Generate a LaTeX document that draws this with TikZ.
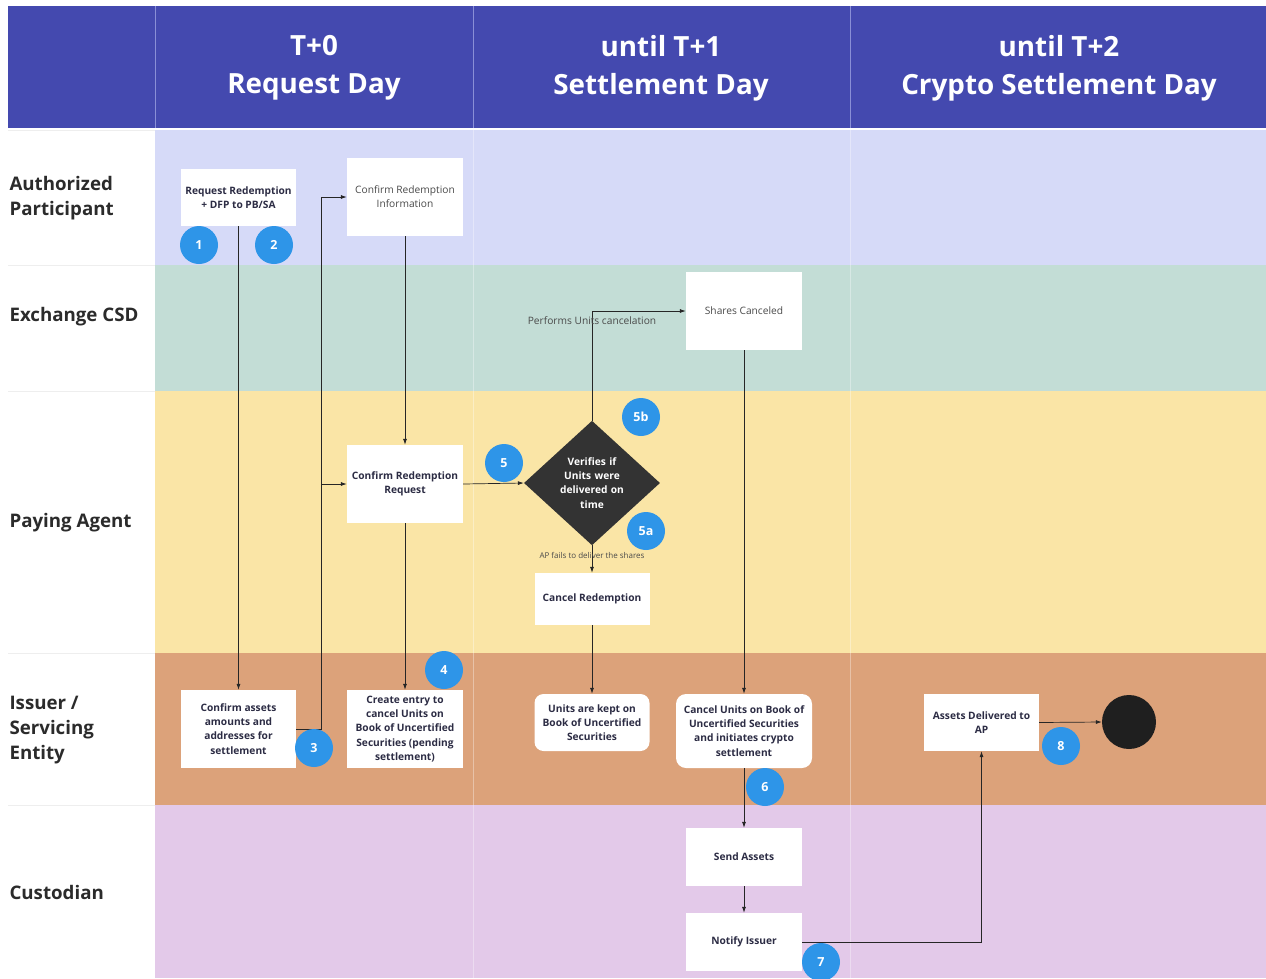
\documentclass[tikz,border=0pt]{standalone}
\usepackage{fontspec}
\setmainfont{Open Sans}
\usetikzlibrary{shapes.geometric,arrows.meta}
\definecolor{hdr}{HTML}{4449AF}
\definecolor{hdrline}{HTML}{8A8FD6}
\definecolor{laneA}{HTML}{D6DAF8}
\definecolor{laneB}{HTML}{C3DDD6}
\definecolor{laneC}{HTML}{FAE5A6}
\definecolor{laneD}{HTML}{DCA27A}
\definecolor{laneE}{HTML}{E3C9E9}
\definecolor{badge}{HTML}{2E95E8}
\definecolor{btext}{HTML}{2C2C44}
\definecolor{rtext}{HTML}{4A4A4A}
\definecolor{lbl}{HTML}{2B2B2B}
\definecolor{dia}{HTML}{333333}
\definecolor{sep}{HTML}{EEEEEE}
\begin{document}
\begin{tikzpicture}[x=1pt,y=-1pt,
  box/.style={fill=white, align=center, inner sep=2pt, text=btext,
    font=\bfseries\fontsize{10.2}{14.2}\selectfont},
  rbox/.style={box, font=\fontsize{10.2}{14.2}\selectfont, text=rtext},
  numbadge/.style={circle, fill=badge, minimum size=38pt, inner sep=0pt, text=white,
    font=\bfseries\fontsize{12.5}{12.5}\selectfont},
  arr/.style={draw=black!85, line width=0.7pt, -{Latex[length=6pt,width=4pt]}},
  lanelbl/.style={anchor=west, align=left, text=lbl, font=\bfseries\fontsize{18.7}{25}\selectfont},
  hdrtxt/.style={align=center, text=white, font=\bfseries\fontsize{27.8}{38}\selectfont},
  note/.style={text=rtext, font=\fontsize{10.2}{12}\selectfont}
]
\useasboundingbox (0,0) rectangle (1266,978);
\fill[white] (0,0) rectangle (1266,978);
% header
\fill[hdr] (8,6) rectangle (1266,128);
\foreach \xx in {155,473,850} \draw[hdrline, line width=0.8pt] (\xx,6) -- (\xx,128);
% lanes
\fill[laneA] (155,130) rectangle (1266,265);
\fill[laneB] (155,265) rectangle (1266,391);
\fill[laneC] (155,391) rectangle (1266,653);
\fill[laneD] (155,653) rectangle (1266,805);
\fill[laneE] (155,805) rectangle (1266,978);
\foreach \xx in {473,850} \draw[white, opacity=0.35, line width=1pt] (\xx,130) -- (\xx,978);
\foreach \yy in {265,391,653,805} \draw[sep, line width=1pt] (8,\yy) -- (155,\yy);
\draw[sep, line width=1pt] (8,130) -- (155,130);
% header text
\node[hdrtxt] (h0) at (314,68) {T+0\\Request Day};
\node[hdrtxt] (h1) at (661,68) {until T+1\\Settlement Day};
\node[hdrtxt] (h2) at (1059,68) {until T+2\\Crypto Settlement Day};
% lane labels
\node[lanelbl] (l1) at (6,198) {Authorized\\Participant};
\node[lanelbl] (l2) at (6,317) {Exchange CSD};
\node[lanelbl] (l3) at (6,523) {Paying Agent};
\node[lanelbl] (l4) at (6,730) {Issuer /\\Servicing\\Entity};
\node[lanelbl] (l5) at (6,892) {Custodian};
% boxes
\node[box, minimum width=115pt, minimum height=57pt] (req) at (238.5,197.5) {Request Redemption\\+ DFP to PB/SA};
\node[rbox, minimum width=116pt, minimum height=78pt] (cri) at (405,197) {Confirm Redemption\\Information};
\node[rbox, minimum width=116pt, minimum height=78pt] (shc) at (744,311) {Shares Canceled};
\node[box, minimum width=116pt, minimum height=78pt] (crq) at (405,484) {Confirm Redemption\\Request};
\node[diamond, fill=dia, minimum width=136pt, minimum height=120pt, inner sep=0pt,
      text width=74pt, align=center, text=white,
      font=\bfseries\fontsize{10.2}{14.2}\selectfont] (ver) at (592,483) {Verifies if\\Units were\\delivered on\\time};
\node[box, minimum width=115pt, minimum height=52pt] (cre) at (592,599) {Cancel Redemption};
\node[box, minimum width=115pt, minimum height=78pt] (caa) at (238.5,729) {Confirm assets\\amounts and\\addresses for\\settlement};
\node[box, minimum width=116pt, minimum height=78pt] (ent) at (405,729) {Create entry to\\cancel Units on\\Book of Uncertified\\Securities (pending\\settlement)};
\node[box, rounded corners=9pt, minimum width=115pt, minimum height=57pt] (kept) at (592,722.5) {Units are kept on\\Book of Uncertified\\Securities};
\node[box, rounded corners=10pt, minimum width=136pt, minimum height=74pt] (cun) at (744,731) {Cancel Units on Book of\\Uncertified Securities\\and initiates crypto\\settlement};
\node[box, minimum width=116pt, minimum height=58pt] (snd) at (744,857) {Send Assets};
\node[box, minimum width=116pt, minimum height=58pt] (ntf) at (744,942) {Notify Issuer};
\node[box, minimum width=115pt, minimum height=57pt] (adl) at (981.5,722.5) {Assets Delivered to\\AP};
\node[circle, fill=black!88, minimum size=54pt, inner sep=0pt] (endc) at (1129,722) {};
% connectors
\draw[arr] (req.south) -- (caa.north);
\coordinate (j1) at (321,729);
\draw[arr] (caa.east) -- (j1) |- (cri.west);
\draw[arr] (j1 |- crq.west) -- (crq.west);
\draw[arr] (cri.south) -- (crq.north);
\draw[arr] (crq.south) -- (ent.north);
\draw[arr] (crq.east) -- (ver.west);
\draw[arr] (ver.north) |- (shc.west);
\node[note] (pl) at (592,321) {Performs Units cancelation};
\draw[arr] (ver.south) -- (cre.north);
\node[note, font=\fontsize{8}{9}\selectfont] (fl) at (592,555) {AP fails to deliver the shares};
\draw[arr] (cre.south) -- (kept.north);
\draw[arr] (shc.south) -- (cun.north);
\draw[arr] (cun.south) -- (snd.north);
\draw[arr] (snd.south) -- (ntf.north);
\draw[arr] (ntf.east) -| (adl.south);
\draw[arr] (adl.east) -- (endc.west);
% badges
\node[numbadge] (b1) at (199,245) {1};
\node[numbadge] (b2) at (274,245) {2};
\node[numbadge] (b3) at (314,748) {3};
\node[numbadge] (b4) at (444,670) {4};
\node[numbadge] (b5) at (504,463) {5};
\node[numbadge] (b5b) at (641,417) {5b};
\node[numbadge] (b5a) at (646,531) {5a};
\node[numbadge] (b6) at (765,787) {6};
\node[numbadge] (b7) at (821,962) {7};
\node[numbadge] (b8) at (1061,746) {8};
\end{tikzpicture}
\end{document}
